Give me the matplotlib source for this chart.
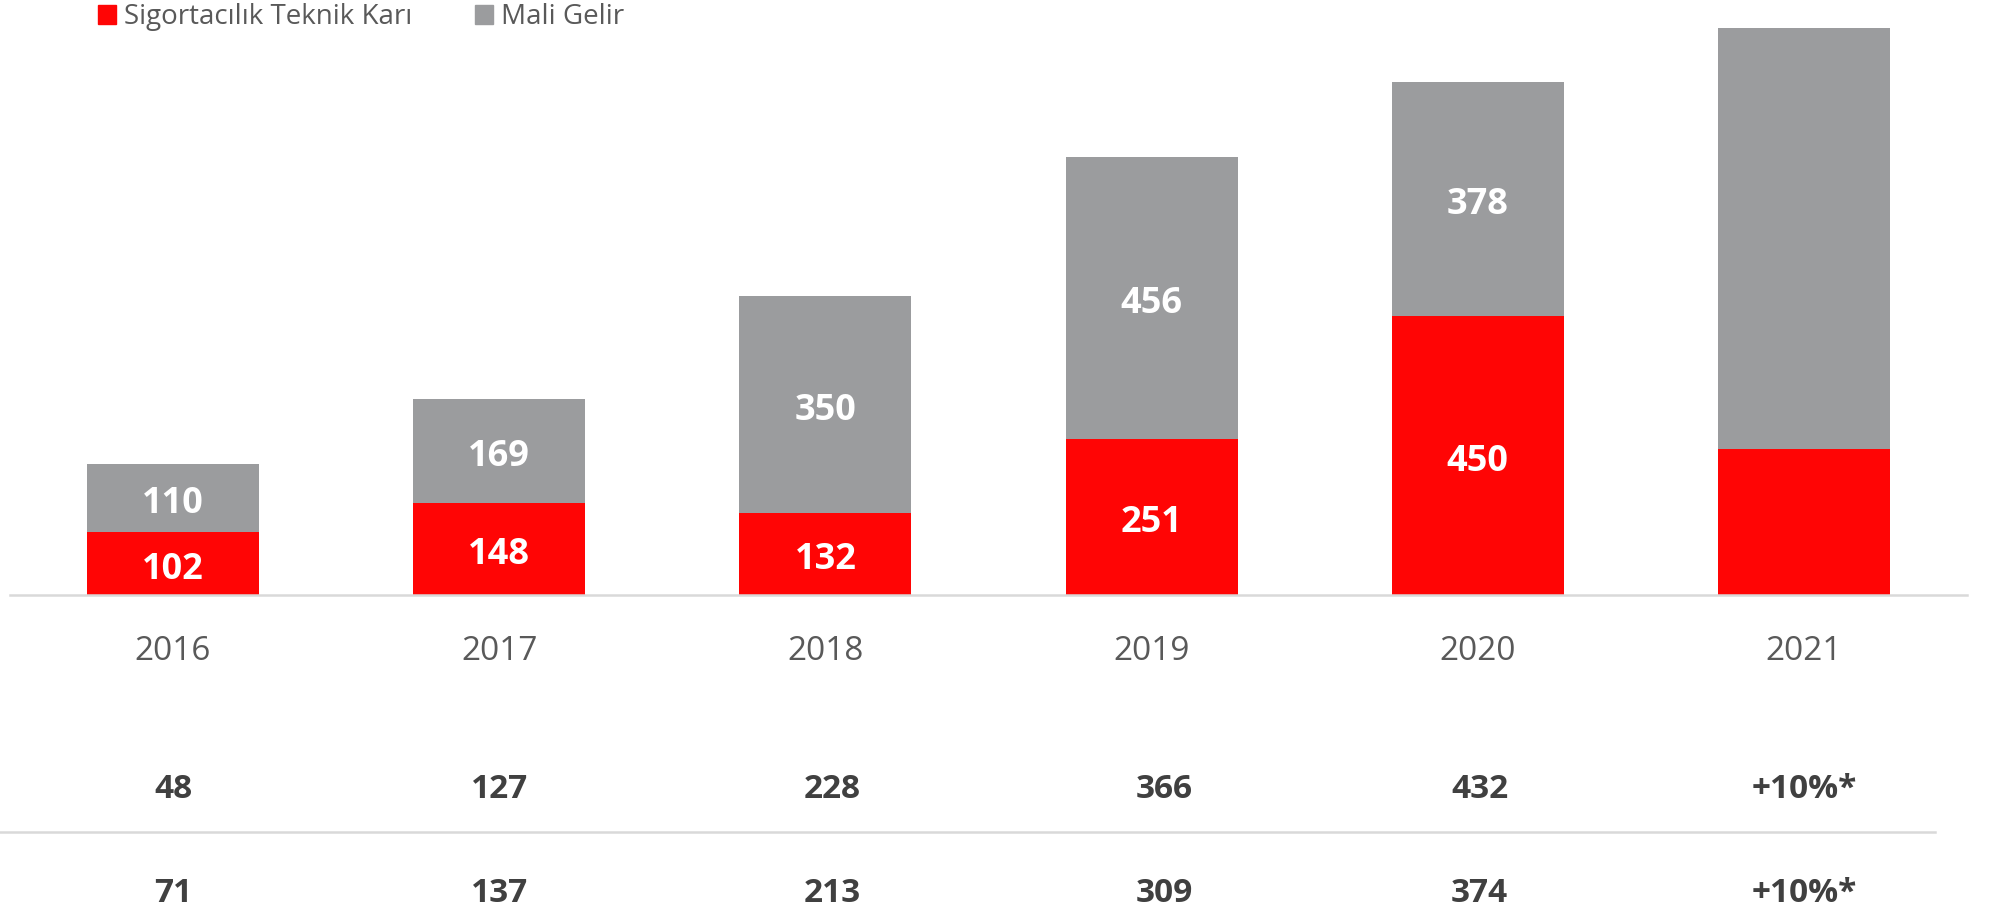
import numpy as np
import matplotlib.pyplot as plt
from matplotlib.patches import Patch
from matplotlib.lines import Line2D
from matplotlib.transforms import blended_transform_factory

plt.rcParams['font.family'] = ['Open Sans', 'DejaVu Sans']

years = ['2016', '2017', '2018', '2019', '2020', '2021']
teknik_kar = [102, 148, 132, 251, 450, 235]
mali_gelir = [110, 169, 350, 456, 378, 680]
# 2021 bar has no value labels in the original
show_label = [True, True, True, True, True, False]

row1 = ['48', '127', '228', '366', '432', '+10%*']
row2 = ['71', '137', '213', '309', '374', '+10%*']
row_shift = [0, 0, 0.02, 0.04, 0.005, 0]

red = '#FF0505'
grey = '#9B9C9E'

fig = plt.figure(figsize=(19.93, 9.07), dpi=100)
ax = fig.add_axes([0.005, 0.344, 0.982, 0.649])

x = np.arange(len(years))
w = 0.527
ax.bar(x, teknik_kar, w, color=red, linewidth=0)
ax.bar(x, mali_gelir, w, bottom=teknik_kar, color=grey, linewidth=0)

for i in range(len(years)):
    if not show_label[i]:
        continue
    ax.annotate(str(teknik_kar[i]), (x[i], teknik_kar[i] / 2), xytext=(0, -4.5),
                textcoords='offset points', ha='center', va='center',
                color='white', fontsize=26, fontweight='bold')
    ax.annotate(str(mali_gelir[i]), (x[i], teknik_kar[i] + mali_gelir[i] / 2),
                xytext=(0, -4.5), textcoords='offset points', ha='center',
                va='center', color='white', fontsize=26, fontweight='bold')

ax.set_xlim(-0.5, 5.5)
ax.set_ylim(0, 950)
ax.set_yticks([])
ax.set_xticks(x)
ax.set_xticklabels(years, fontsize=24, color='#595959')
ax.tick_params(axis='x', length=0, pad=28.5)
for s in ['top', 'right', 'left']:
    ax.spines[s].set_visible(False)
ax.spines['bottom'].set_color('#D9D9D9')
ax.spines['bottom'].set_linewidth(1.8)

# rows of numbers below the chart
tr = blended_transform_factory(ax.transData, fig.transFigure)
for i in range(len(years)):
    fig.text(x[i] + row_shift[i], 1 - 789 / 907, row1[i], transform=tr, ha='center',
             va='center', fontsize=24, fontweight='bold', color='#404040')
    fig.text(x[i] + row_shift[i], 1 - 893 / 907, row2[i], transform=tr, ha='center',
             va='center', fontsize=24, fontweight='bold', color='#404040')

fig.add_artist(Line2D([0, 0.971], [1 - 832 / 907, 1 - 832 / 907],
                      color='#D9D9D9', linewidth=1.8, transform=fig.transFigure))

handles = [Patch(color=red), Patch(color=grey)]
fig.legend(handles, ['Sigortacılık Teknik Karı', 'Mali Gelir'], loc='center left',
           bbox_to_anchor=(0.049, 1 - 17 / 907), ncol=2, frameon=False, fontsize=20,
           handlelength=0.65, handleheight=0.65, handletextpad=0.3, columnspacing=2.25,
           labelcolor='#595959', borderpad=0, borderaxespad=0)

fig.savefig('out.png', dpi=100)
